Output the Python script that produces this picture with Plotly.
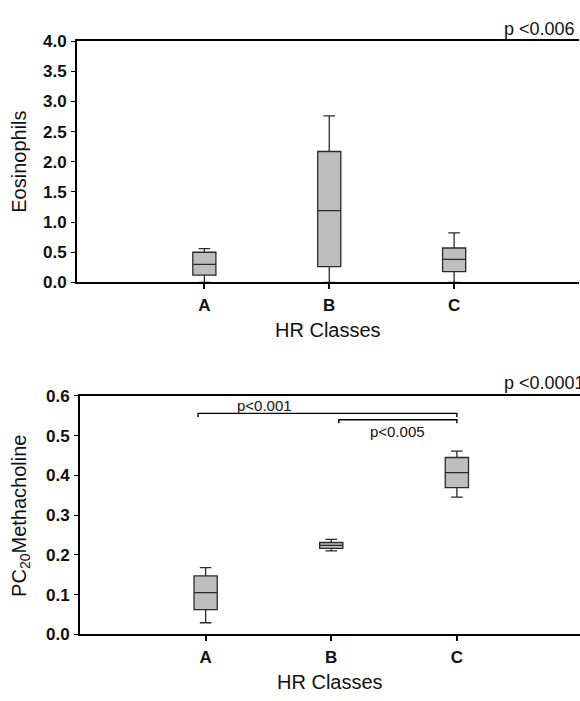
import plotly.graph_objects as go

# ---------------- data ----------------
categories = ["A", "B", "C"]
cat_pos = [0, 1, 2]

# Eosinophils box statistics
eos_lower = [0.0, 0.0, 0.0]
eos_q1 = [0.12, 0.26, 0.18]
eos_median = [0.30, 1.19, 0.38]
eos_q3 = [0.50, 2.17, 0.57]
eos_upper = [0.56, 2.76, 0.82]

# PC20 Methacholine box statistics
pc_lower = [0.029, 0.210, 0.345]
pc_q1 = [0.062, 0.216, 0.369]
pc_median = [0.105, 0.224, 0.407]
pc_q3 = [0.147, 0.231, 0.445]
pc_upper = [0.168, 0.239, 0.461]

# significance brackets (bottom panel)
bracket_from = [-0.06, 1.06]
bracket_to = [2.0, 2.0]
bracket_y = [0.556, 0.540]
bracket_labels = ["p<0.001", "p<0.005"]

eos_ticks = [0.0, 0.5, 1.0, 1.5, 2.0, 2.5, 3.0, 3.5, 4.0]
pc_ticks = [0.0, 0.1, 0.2, 0.3, 0.4, 0.5, 0.6]

top_p = "p <0.006"
bottom_p = "p <0.0001"

# ---------------- figure ----------------
W, H = 580, 701
FONT = "Liberation Sans, Arial, sans-serif"
BOX_FILL = "#bebebe"
BOX_LINE = "#2a2a2a"

fig = go.Figure()

fig.add_trace(go.Box(
    x=cat_pos, q1=eos_q1, median=eos_median, q3=eos_q3,
    lowerfence=eos_lower, upperfence=eos_upper,
    width=0.185, whiskerwidth=0.5, boxpoints=False,
    fillcolor=BOX_FILL, line=dict(color=BOX_LINE, width=1.3),
    xaxis="x", yaxis="y", showlegend=False, hoverinfo="skip",
))

fig.add_trace(go.Box(
    x=cat_pos, q1=pc_q1, median=pc_median, q3=pc_q3,
    lowerfence=pc_lower, upperfence=pc_upper,
    width=0.185, whiskerwidth=0.5, boxpoints=False,
    fillcolor=BOX_FILL, line=dict(color=BOX_LINE, width=1.3),
    xaxis="x2", yaxis="y2", showlegend=False, hoverinfo="skip",
))

# brackets
drop = 0.009
for x0, x1, yb in zip(bracket_from, bracket_to, bracket_y):
    fig.add_trace(go.Scatter(
        x=[x0, x0, x1, x1], y=[yb - drop, yb, yb, yb - drop],
        mode="lines", line=dict(color="black", width=1.4),
        xaxis="x2", yaxis="y2", showlegend=False, hoverinfo="skip",
    ))

annotations = []
# bracket labels
annotations.append(dict(x=0.47, y=bracket_y[0], xref="x2", yref="y2",
                        text=bracket_labels[0], showarrow=False,
                        xanchor="center", yanchor="bottom", yshift=-3,
                        font=dict(family=FONT, size=15, color="#111")))
annotations.append(dict(x=1.53, y=bracket_y[1], xref="x2", yref="y2",
                        text=bracket_labels[1], showarrow=False,
                        xanchor="center", yanchor="top", yshift=-1,
                        font=dict(family=FONT, size=15, color="#111")))

# p-value headers
annotations.append(dict(x=502 / W, y=1 - 21 / H, xref="paper", yref="paper",
                        text=top_p, showarrow=False, xanchor="left", yanchor="middle",
                        font=dict(family=FONT, size=18, color="#111")))
annotations.append(dict(x=502 / W, y=1 - 384 / H, xref="paper", yref="paper",
                        text=bottom_p, showarrow=False, xanchor="left", yanchor="middle",
                        font=dict(family=FONT, size=18, color="#111")))

# axis titles
annotations.append(dict(x=19 / W, y=1 - 157 / H, xref="paper", yref="paper",
                        text="Eosinophils", textangle=-90, showarrow=False,
                        xanchor="center", yanchor="middle",
                        font=dict(family=FONT, size=20, color="#111")))
annotations.append(dict(x=21 / W, y=1 - 521 / H, xref="paper", yref="paper",
                        text="PC<sub>20</sub>Methacholine", textangle=-90, showarrow=False,
                        xanchor="center", yanchor="middle",
                        font=dict(family=FONT, size=20, color="#111")))
annotations.append(dict(x=328 / W, y=1 - 329.5 / H, xref="paper", yref="paper",
                        text="HR Classes", showarrow=False,
                        xanchor="center", yanchor="middle",
                        font=dict(family=FONT, size=20, color="#111")))
annotations.append(dict(x=330 / W, y=1 - 692 / H, xref="paper", yref="paper",
                        text="HR Classes", showarrow=False,
                        xanchor="center", yanchor="middle",
                        font=dict(family=FONT, size=20, color="#111")))

tickfont = dict(family=FONT, size=17, color="#111", weight="bold")

common_x = dict(
    tickvals=cat_pos, ticktext=categories, showgrid=False, zeroline=False,
    showline=True, linecolor="black", linewidth=2, mirror=True,
    ticks="outside", ticklen=5, tickwidth=1.5, tickcolor="black",
    tickfont=tickfont, ticklabelstandoff=1,
)
common_y = dict(
    showgrid=False, zeroline=False, showline=True, linecolor="black", linewidth=2,
    ticks="outside", ticklen=4, tickwidth=1.2, tickcolor="black",
    tickfont=tickfont, tickformat=".1f", ticklabelstandoff=1,
)

fig.update_layout(
    width=W, height=H,
    margin=dict(l=0, r=0, t=0, b=0),
    paper_bgcolor="white", plot_bgcolor="white",
    showlegend=False,
    xaxis=dict(domain=[77 / W, 579 / W], range=[-1.02, 3.0], anchor="y", **common_x),
    yaxis=dict(domain=[1 - 281 / H, 1 - 33 / H], range=[0, 4.0], tickvals=eos_ticks,
               anchor="x", **common_y),
    yaxis3=dict(domain=[1 - 281 / H, 1 - 33 / H], range=[0, 4.0], tickvals=eos_ticks,
                overlaying="y", side="right", anchor="x", showgrid=False, zeroline=False,
                showline=True, linecolor="black", linewidth=2, ticks="inside",
                ticklen=5, tickwidth=1.2, tickcolor="black", showticklabels=False),
    xaxis2=dict(domain=[80 / W, 1.0], range=[-1.0, 2.98], anchor="y2", **common_x),
    yaxis2=dict(domain=[1 - 642.7 / H, 1 - 397.7 / H], range=[0, 0.6], tickvals=pc_ticks,
                anchor="x2", **common_y),
    annotations=annotations,
)

fig.write_html("out.html")
